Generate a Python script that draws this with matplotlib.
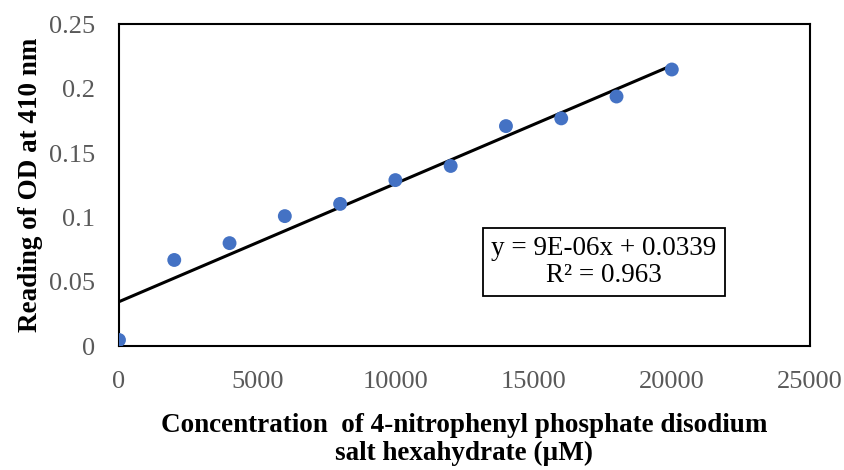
import numpy as np
import matplotlib
matplotlib.use("Agg")
import matplotlib.pyplot as plt

plt.rcParams['font.family'] = ['Liberation Serif', 'DejaVu Serif']

conc = [0, 2000, 4000, 6000, 8000, 10000, 12000, 14000, 16000, 18000, 20000]
od = [0.0047, 0.0669, 0.080, 0.101, 0.1105, 0.129, 0.140, 0.171, 0.177, 0.194, 0.215]
x_ticks = [0, 5000, 10000, 15000, 20000, 25000]
y_ticks = [0, 0.05, 0.1, 0.15, 0.2, 0.25]
y_tick_labels = ["0", "0.05", "0.1", "0.15", "0.2", "0.25"]
eq_text = "y = 9E-06x + 0.0339\nR² = 0.963"

fig = plt.figure(figsize=(8.45, 4.7), dpi=100)
ax = fig.add_axes([0.1408, 0.2638, 0.8178, 0.6841])

# linear trendline
slope, icpt = np.polyfit(conc, od, 1)
xs = np.array([conc[0], conc[-1]])
ax.plot(xs, slope * xs + icpt, color='black', lw=2.2, zorder=2)
ax.scatter(conc, od, s=100, color='#4472C4', zorder=3, edgecolors='none')

ax.set_xlim(0, 25000)
ax.set_ylim(0, 0.25)
ax.set_xticks(x_ticks)
ax.set_yticks(y_ticks)
ax.set_yticklabels(y_tick_labels)
ax.tick_params(length=0, labelsize=19, labelcolor='#595959')
ax.tick_params(axis='x', pad=18)
ax.tick_params(axis='y', pad=17)
for s in ax.spines.values():
    s.set_linewidth(1.5)
    s.set_color('black')

ax.text(0.702, 0.261, eq_text, transform=ax.transAxes, ha='center', va='center',
        fontsize=19.5, linespacing=1.12,
        bbox=dict(boxstyle='square,pad=0.3', fc='white', ec='black', lw=1.3))

ax.set_xlabel("Concentration  of 4-nitrophenyl phosphate disodium\nsalt hexahydrate (\u00b5M)",
              fontsize=19.5, fontweight='bold', linespacing=1.15, va='center')
ax.xaxis.set_label_coords(0.5, -0.292)
ax.set_ylabel("Reading of OD at 410 nm", fontsize=19.5, fontweight='bold', va='center')
ax.yaxis.set_label_coords(-0.128, 0.5)

fig.savefig("out.png", dpi=100)
